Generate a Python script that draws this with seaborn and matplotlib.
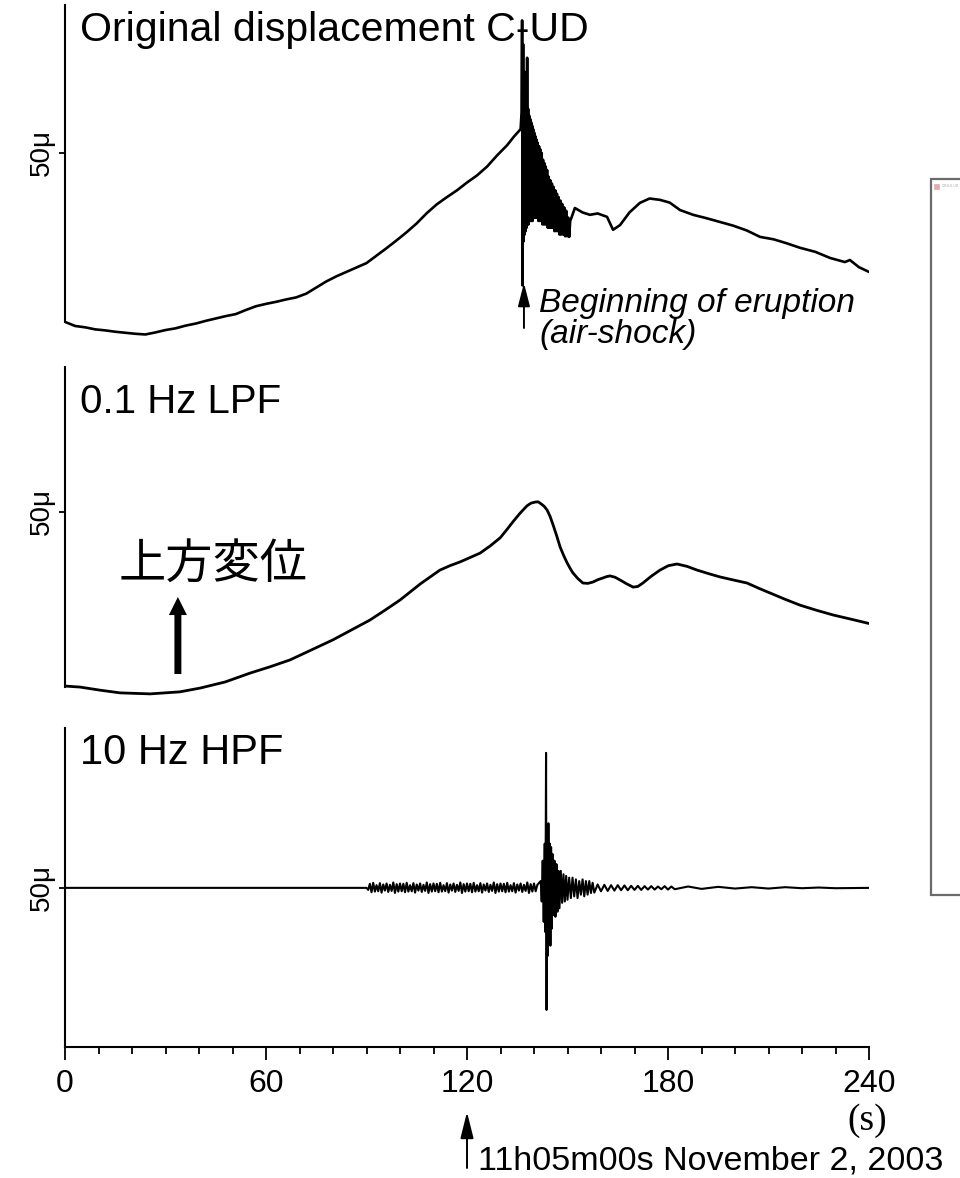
import matplotlib.pyplot as plt
import seaborn as sns
from matplotlib.patches import Rectangle
from matplotlib.ticker import MultipleLocator

W_PX, H_PX, DPI = 960, 1178, 100

# Original displacement C-UD (time in s, displacement in micro units)
raw_t = [0, 3, 6, 9, 12, 15, 18, 21, 24, 27,
         30, 33, 36, 39, 42, 45, 48, 51, 54, 57,
         60, 63, 66, 69, 72, 75, 78, 81, 84, 87,
         90, 93, 96, 99, 102, 105, 108, 111, 114, 117,
         120, 123, 126, 129, 132, 134, 136,
         136.3, 136.45, 136.6, 136.75, 136.9, 137.05, 137.2, 137.35, 137.5, 137.65,
         137.8, 137.95, 138.1, 138.25, 138.4, 138.55, 138.7, 138.85, 139.0, 139.15,
         139.3, 139.45, 139.6, 139.75, 139.9, 140.05, 140.2, 140.35, 140.5, 140.7,
         140.9, 141.1, 141.3, 141.5, 141.7, 141.9, 142.1, 142.3, 142.5, 142.7,
         142.9, 143.1, 143.3, 143.5, 143.7, 143.9, 144.1, 144.35, 144.6, 144.85,
         145.1, 145.35, 145.6, 145.85, 146.1, 146.35, 146.6, 146.85, 147.1, 147.35,
         147.6, 147.85, 148.1, 148.4, 148.7, 149.0, 149.3, 149.6, 149.9, 150.2,
         150.5, 150.8, 151.2,
         152.2, 154.5, 156.7, 159.0, 161.8, 163.6, 165.7, 168.5,
         171.6, 174.5, 177.6, 180.5, 183.6, 187.5, 191.5, 195.5, 199.5, 203.5,
         207.5, 211.5, 215.5, 219.4, 224.0, 228.4, 232.8, 234.3, 237.0, 240.0]
raw_v = [0.3, -0.9, -1.3, -1.9, -2.2, -2.6, -2.9, -3.2, -3.4, -2.8,
         -2.1, -1.6, -0.8, -0.2, 0.6, 1.3, 2.0, 2.6, 3.8, 4.9,
         5.6, 6.2, 6.9, 7.5, 8.6, 10.4, 12.2, 13.7, 15.0, 16.3,
         17.6, 19.8, 22.0, 24.3, 26.7, 29.3, 32.3, 34.9, 37.0, 39.0,
         41.3, 43.4, 46.0, 49.3, 52.3, 54.8, 57.0,
         62, 89, 11, 82, 24, 74, 26, 70, 27, 66,
         28, 78, 29, 63, 29, 61, 30, 60, 30, 59,
         30, 58, 30, 57, 31, 56, 31, 55, 31, 54,
         31, 53, 30, 52, 30, 51, 30, 50, 29, 48,
         29, 47, 29, 46, 29, 45, 28, 43, 28, 42,
         28, 41, 28, 40, 27, 39, 27, 38, 27, 37,
         26, 36, 26, 35, 26, 34, 25.5, 33, 25.5, 31,
         25.3, 30, 31,
         33.8, 32.5, 31.8, 32.2, 31.2, 27.4, 28.8, 32.5,
         35.3, 36.6, 36.2, 35.4, 33.2, 31.8, 30.8, 29.7, 28.6, 27.2,
         25.3, 24.6, 23.4, 22.1, 20.9, 19.1, 17.9, 18.5, 16.4, 15.0]

# 0.1 Hz low-pass filtered
lpf_t = [0, 4.5, 10.4, 16.4, 25.4, 34.3, 40.3, 47.8, 55.2, 61,
         67.2, 73.5, 80, 85.5, 91, 95.5, 100, 106, 111.9, 114.9,
         117.9, 120.9, 123.9, 126.9, 129.9, 131.8, 133.7, 135.8, 137.9, 139.1,
         140.3, 141.2, 142.1, 143.0, 143.9, 144.8, 145.7, 146.8, 147.8, 148.9,
         149.9, 150.8, 151.6, 153.1, 154.6, 156.1, 157.6, 159.1, 160.6, 161.7,
         162.7, 164.2, 165.7, 167.6, 169.6, 171.0, 172.5, 175.0, 177.6, 180.1,
         182.7, 185.7, 188.7, 192.0, 195.5, 199.5, 203.6, 207.0, 210.4, 215.0,
         219.4, 224.3, 229.3, 234.5, 240]
lpf_v = [-1.2, -1.5, -2.4, -3.2, -3.5, -2.9, -1.8, 0.0, 2.6, 4.4,
         6.5, 9.4, 12.4, 15.3, 18.2, 21.1, 24.1, 28.8, 32.9, 34.2,
         35.3, 36.6, 37.9, 40.0, 42.4, 44.7, 47.1, 49.6, 51.8, 52.6,
         52.9, 53.0, 52.4, 51.7, 50.6, 48.7, 46.2, 42.9, 39.7, 37.1,
         35.0, 33.4, 32.1, 30.4, 29.1, 29.0, 29.4, 30.1, 30.6, 31.0,
         31.2, 30.8, 30.0, 28.9, 27.9, 28.1, 29.1, 31.1, 32.9, 34.2,
         34.7, 34.0, 32.9, 31.9, 30.9, 30.0, 29.1, 27.6, 26.2, 24.3,
         22.6, 21.1, 19.7, 18.5, 17.2]

# 10 Hz high-pass filtered
hpf_t = [0, 90, 90.5,
         91.0, 91.5, 92.0, 92.5, 93.0, 93.5, 94.0, 94.5, 95.0, 95.5,
         96.0, 96.5, 97.0, 97.5, 98.0, 98.5, 99.0, 99.5, 100.0, 100.5,
         101.0, 101.5, 102.0, 102.5, 103.0, 103.5, 104.0, 104.5, 105.0, 105.5,
         106.0, 106.5, 107.0, 107.5, 108.0, 108.5, 109.0, 109.5, 110.0, 110.5,
         111.0, 111.5, 112.0, 112.5, 113.0, 113.5, 114.0, 114.5, 115.0, 115.5,
         116.0, 116.5, 117.0, 117.5, 118.0, 118.5, 119.0, 119.5, 120.0, 120.5,
         121.0, 121.5, 122.0, 122.5, 123.0, 123.5, 124.0, 124.5, 125.0, 125.5,
         126.0, 126.5, 127.0, 127.5, 128.0, 128.5, 129.0, 129.5, 130.0, 130.5,
         131.0, 131.5, 132.0, 132.5, 133.0, 133.5, 134.0, 134.5, 135.0, 135.5,
         136.0, 136.5, 137.0, 137.5, 138.0, 138.5, 139.0, 139.5, 140.0, 140.5,
         141.0,
         142.0, 142.3, 142.6, 142.9, 143.2, 143.4, 143.6, 143.75, 143.9, 144.1,
         144.3, 144.5, 144.7, 144.9, 145.1, 145.3, 145.5, 145.8, 146.1, 146.4,
         146.7, 147.0, 147.3, 147.6, 148.0, 148.4, 148.8, 149.2, 149.6, 150.0,
         150.5, 151.0, 151.5, 152.0, 152.5, 153.0, 153.5, 154.0, 154.5, 155.0,
         155.5, 156.0, 156.5, 157.0, 157.5, 158.0, 159.0, 160.0, 161.0, 162.0,
         163, 164, 165, 166, 167, 168, 169, 170, 171, 172,
         173, 174, 175, 176, 177, 178, 179, 180, 181, 182,
         186, 190, 195, 200, 205, 210, 215, 220, 225, 230, 240]
hpf_v = [50, 50, 49.4,
         51.2, 48.7, 51.5, 48.9, 50.8, 49.0, 51.4, 48.6, 51.0, 49.2,
         51.3, 48.8, 50.9, 49.1, 51.6, 48.5, 51.1, 48.9, 51.3, 49.0,
         51.2, 48.7, 51.5, 48.9, 50.8, 49.0, 51.4, 48.6, 51.0, 49.2,
         51.3, 48.8, 50.9, 49.1, 51.6, 48.5, 51.1, 48.9, 51.3, 49.0,
         51.2, 48.7, 51.5, 48.9, 50.8, 49.0, 51.4, 48.6, 51.0, 49.2,
         51.3, 48.8, 50.9, 49.1, 51.6, 48.5, 51.1, 48.9, 51.3, 49.0,
         51.2, 48.7, 51.5, 48.9, 50.8, 49.0, 51.4, 48.6, 51.0, 49.2,
         51.3, 48.8, 50.9, 49.1, 51.6, 48.5, 51.1, 48.9, 51.3, 49.0,
         51.2, 48.7, 51.5, 48.9, 50.8, 49.0, 51.4, 48.6, 51.0, 49.2,
         51.3, 48.8, 50.9, 49.1, 51.6, 48.5, 51.1, 48.9, 51.3, 49.0,
         50.9,
         52, 46, 58, 40, 63, 37, 89.7, 14.1, 67, 30,
         69, 35, 63, 33, 62, 38, 60, 42, 58, 41.5,
         57, 43, 55, 44, 55, 45.6, 54, 46, 53.5, 46.5,
         53, 47, 53, 47.5, 52.5, 47, 52, 48, 52.5, 47.5,
         52, 48, 52, 48.5, 51.5, 48.6, 51.0, 49.0, 50.9, 49.1,
         50.8, 49.2, 50.8, 49.3, 50.7, 49.3, 50.6, 49.4, 50.6, 49.4,
         50.5, 49.5, 50.5, 49.5, 50.4, 49.6, 50.5, 49.5, 50.4, 49.6,
         50.4, 49.7, 50.3, 49.8, 50.2, 49.8, 50.2, 49.9, 50.1, 49.9, 50]

x_major = [0, 60, 120, 180, 240]
scale_label = "50μ"

sns.set_theme(style="ticks")
plt.rcParams["font.family"] = ["Liberation Sans", "Noto Sans CJK JP", "DejaVu Sans"]
plt.rcParams["text.color"] = "black"
plt.rcParams["xtick.color"] = "black"
plt.rcParams["ytick.color"] = "black"

fig = plt.figure(figsize=(W_PX / DPI, H_PX / DPI), dpi=DPI)


def fxy(x, y):
    """pixel position (from top-left) -> figure fraction"""
    return x / W_PX, 1 - y / H_PX


def add_panel(top, bottom, ylim, spine):
    ax = fig.add_axes([65 / W_PX, 1 - bottom / H_PX, 804 / W_PX, (bottom - top) / H_PX])
    ax.set_facecolor("none")
    ax.set_xlim(0, 240)
    ax.set_ylim(*ylim)
    ax.spines["top"].set_visible(False)
    ax.spines["right"].set_visible(False)
    ax.spines["left"].set_bounds(*spine)
    for s in ("left", "bottom"):
        ax.spines[s].set_color("black")
        ax.spines[s].set_linewidth(1.5)
    ax.set_yticks([50], [scale_label])
    ax.tick_params(axis="y", left=True, direction="out", length=4.5, width=1.3,
                   color="black", labelsize=20, pad=3, labelcolor="black")
    for lab in ax.get_yticklabels():
        lab.set_rotation(90)
        lab.set_va("center")
    return ax


ax1 = add_panel(0, 345, (-6.5, 95.0), (0.3, 93.5))
ax2 = add_panel(360, 700, (-5.3, 94.7), (-1.5, 92.6))
ax3 = add_panel(725, 1047, (3.2, 97.9), (3.2, 97.0))

for ax in (ax1, ax2):
    ax.spines["bottom"].set_visible(False)
    ax.tick_params(axis="x", bottom=False, labelbottom=False)

sns.lineplot(x=raw_t, y=raw_v, ax=ax1, color="black", linewidth=1.9, sort=False, estimator=None)
sns.lineplot(x=lpf_t, y=lpf_v, ax=ax2, color="black", linewidth=2.0, sort=False, estimator=None)
sns.lineplot(x=hpf_t, y=hpf_v, ax=ax3, color="black", linewidth=1.5, sort=False, estimator=None)

ax3.spines["bottom"].set_bounds(0, 240)
ax3.set_xticks(x_major, [str(v) for v in x_major])
ax3.xaxis.set_minor_locator(MultipleLocator(10))
ax3.tick_params(axis="x", which="major", bottom=True, direction="out", length=9, width=1.3,
                color="black", labelsize=23, pad=7, labelcolor="black")
ax3.tick_params(axis="x", which="minor", bottom=True, direction="out", length=5, width=1.3,
                color="black")

# panel titles
fig.text(*fxy(80, 11), "Original displacement C-UD", fontsize=29.5, va="top", ha="left")
fig.text(*fxy(80, 383), "0.1 Hz LPF", fontsize=29, va="top", ha="left")
fig.text(*fxy(80, 733), "10 Hz HPF", fontsize=30, va="top", ha="left")

# eruption marker
fig.text(*fxy(539, 288), "Beginning of eruption", fontsize=24, style="italic", va="top", ha="left")
fig.text(*fxy(539, 319), "(air-shock)", fontsize=24, style="italic", va="top", ha="left")
ax1.annotate("", xy=(137.0, H_PX - 283), xytext=(137.0, H_PX - 328),
             xycoords=("data", "figure pixels"), textcoords=("data", "figure pixels"),
             arrowprops=dict(arrowstyle="-|>,head_length=0.7,head_width=0.18", mutation_scale=20,
                             lw=1.4, color="black", shrinkA=0, shrinkB=0))

# upward displacement
fig.text(*fxy(119, 565), "上方変位", fontsize=34, va="center", ha="left",
         family=["Noto Sans CJK JP", "DejaVu Sans"])
ax2.annotate("", xy=(33.7, H_PX - 597), xytext=(33.7, H_PX - 674),
             xycoords=("data", "figure pixels"), textcoords=("data", "figure pixels"),
             arrowprops=dict(arrowstyle="simple,head_length=0.65,head_width=0.65,tail_width=0.25",
                             mutation_scale=20, lw=0, color="black", shrinkA=0, shrinkB=0))

# time reference
fig.text(*fxy(867, 1121), "(s)", fontsize=27, va="center", ha="center",
         family=["Liberation Serif", "DejaVu Serif"])
ax3.annotate("", xy=(120, H_PX - 1112), xytext=(120, H_PX - 1168),
             xycoords=("data", "figure pixels"), textcoords=("data", "figure pixels"),
             arrowprops=dict(arrowstyle="-|>,head_length=0.8,head_width=0.2", mutation_scale=20,
                             lw=1.4, color="black", shrinkA=0, shrinkB=0))
fig.text(*fxy(478, 1145), "11h05m00s November 2, 2003", fontsize=24.5, va="top", ha="left")

# broken embedded image frame on the right
fig.add_artist(Rectangle((9.31, (H_PX - 895) / DPI), 0.5, 7.16, transform=fig.dpi_scale_trans,
                         facecolor="white", edgecolor="#6b6b6b", linewidth=1.6))
fig.add_artist(Rectangle((9.34, (H_PX - 189) / DPI), 0.05, 0.05, transform=fig.dpi_scale_trans,
                         facecolor="#f2a5a5", edgecolor="#bbbbbb", linewidth=0.5))
fig.text(*fxy(942, 186), "C3HLK-UD", fontsize=2.5, color="#aaaaaa", va="center", ha="left")

fig.savefig("out.png", dpi=DPI)
